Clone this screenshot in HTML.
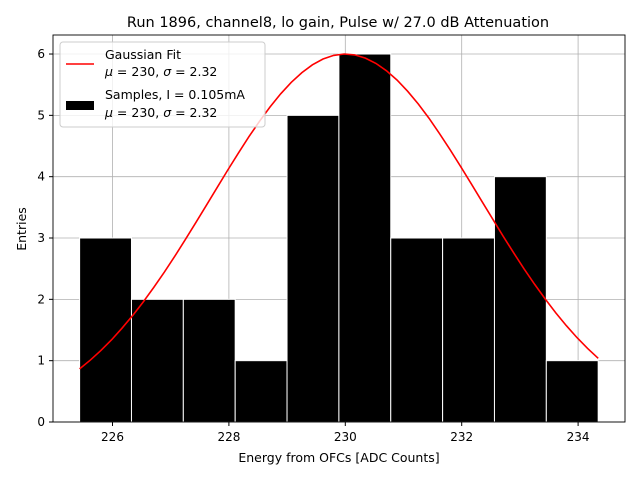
<!DOCTYPE html>
<html><head><meta charset="utf-8"><style>
body{margin:0;background:#fff}
text{font-family:"DejaVu Sans","Liberation Sans",sans-serif;fill:#000}
</style></head><body>
<svg id="chart" width="640" height="480">
<rect width="640" height="480" fill="#fff"/>
<text x="338" y="27" font-size="14.5" text-anchor="middle">Run 1896, channel8, lo gain, Pulse w/ 27.0 dB Attenuation</text>
<g id="grid"></g>
<g id="bars"></g>
<g id="curve"></g>
<rect x="53" y="35" width="572" height="387" fill="none" stroke="#000" stroke-width="0.9"/>
<g id="axes"></g>
<text x="339" y="462" font-size="12.5" text-anchor="middle">Energy from OFCs [ADC Counts]</text>
<text x="0" y="0" font-size="12.5" text-anchor="middle" transform="translate(26,229) rotate(-90)">Entries</text>
<g>
<rect x="60" y="42" width="205" height="85" rx="3" fill="#fff" fill-opacity="0.8" stroke="#ccc"/>
<line x1="66" y1="64" x2="94" y2="64" stroke="red" stroke-width="1.6"/>
<text x="105" y="59" font-size="12.5">Gaussian Fit</text>
<text x="105" y="76" font-size="12.5"><tspan font-style="italic">μ</tspan> = 230, <tspan font-style="italic">σ</tspan> = 2.32</text>
<rect x="66" y="101" width="28" height="9" fill="#000"/>
<text x="105" y="99" font-size="12.5">Samples, I = 0.105mA</text>
<text x="105" y="117" font-size="12.5"><tspan font-style="italic">μ</tspan> = 230, <tspan font-style="italic">σ</tspan> = 2.32</text>
</g>
</svg>
<script>
const counts=[3,2,2,1,5,6,3,3,4,1];
const binStart=225.435, binWidth=0.891;
const xTicks=[226,228,230,232,234];
const yTicks=[0,1,2,3,4,5,6];
const fitMu=230, fitSigma=2.32, fitAmp=6;
const fitRange=[225.435,234.345];
const NS='http://www.w3.org/2000/svg';
const X=v=>112.5+(v-226)*58.2, Y=v=>422-v*61.33;
function mk(t,a,p){const e=document.createElementNS(NS,t);for(const k in a)e.setAttribute(k,a[k]);p.appendChild(e);return e;}
const grid=document.getElementById('grid'),axes=document.getElementById('axes'),bars=document.getElementById('bars'),curve=document.getElementById('curve');
xTicks.forEach(v=>{
 const g=mk('line',{x1:X(v),x2:X(v),y1:35,y2:422,stroke:'#b0b0b0','stroke-width':0.8},grid);
 
 
 mk('line',{x1:X(v),x2:X(v),y1:422,y2:426,stroke:'#000'},axes);
 const t=mk('text',{x:X(v),y:441,'font-size':12,'text-anchor':'middle'},axes);t.textContent=v;
 
 
});
yTicks.forEach(v=>{
 const g=mk('line',{x1:53,x2:625,y1:Y(v),y2:Y(v),stroke:'#b0b0b0','stroke-width':0.8},grid);
 
 
 mk('line',{x1:49,x2:53,y1:Y(v),y2:Y(v),stroke:'#000'},axes);
 const t=mk('text',{x:45,y:Y(v)+4,'font-size':12,'text-anchor':'end'},axes);t.textContent=v;
 
 
});
counts.forEach((c,i)=>{
 const x0=X(binStart+i*binWidth),x1=X(binStart+(i+1)*binWidth);
 const r=mk('rect',{x:x0,y:Y(c),width:x1-x0,height:Y(0)-Y(c),fill:'#000',stroke:'#fff','stroke-width':1},bars);
 
 
});
let pts=[];const n=50;
for(let i=0;i<n;i++){const v=fitRange[0]+(fitRange[1]-fitRange[0])*i/(n-1);
 pts.push(X(v).toFixed(1)+','+Y(fitAmp*Math.exp(-((v-fitMu)**2)/(2*fitSigma*fitSigma))).toFixed(1));}
const pl=mk('polyline',{points:pts.join(' '),fill:'none',stroke:'red','stroke-width':1.6},curve);


</script>
</body></html>
